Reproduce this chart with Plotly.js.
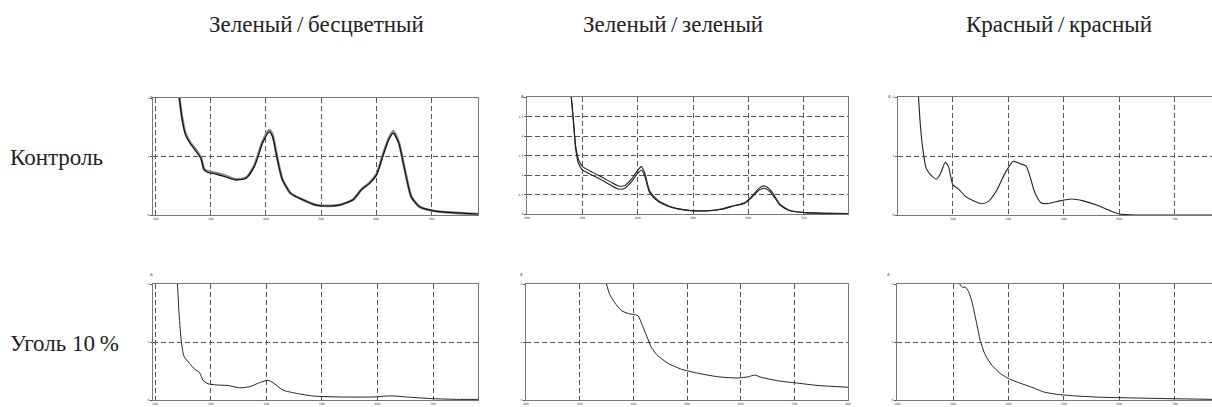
<!DOCTYPE html>
<html><head><meta charset="utf-8">
<script src="https://cdn.plot.ly/plotly-3.0.1.min.js"></script>
<style>html,body{margin:0;padding:0;background:#fff}#chart{width:1212px;height:407px}</style>
</head><body><div id="chart"></div>
<script>
// Column and row labels
const colTitles = ["Зеленый\u202F/\u202Fбесцветный", "Зеленый\u202F/\u202Fзеленый", "Красный\u202F/\u202Fкрасный"];
const rowTitles = ["Контроль", "Уголь 10\u202F%"];

// Panel 1: Контроль, Зеленый / бесцветный (two replicate curves)
const p1_x  = [238,243,247,254,262,273,282,288,294,309,327,345,364,379,394,406,412,421,430,445,467,491,509,533,558,573,588,601,612,623,631,641,652,664,679,703,739,785];
const p1_y1 = [2.4,2.0,1.69,1.37,1.23,1.09,0.97,0.77,0.73,0.70,0.65,0.60,0.63,0.83,1.23,1.42,1.34,0.94,0.60,0.37,0.26,0.17,0.154,0.17,0.26,0.43,0.54,0.69,1.0,1.29,1.40,1.23,0.77,0.31,0.14,0.074,0.04,0.017];
const p1_y2 = [2.4,2.0,1.71,1.40,1.25,1.11,0.98,0.78,0.75,0.72,0.67,0.61,0.64,0.85,1.26,1.45,1.37,0.95,0.61,0.37,0.26,0.17,0.156,0.17,0.26,0.43,0.55,0.70,1.02,1.31,1.43,1.25,0.78,0.31,0.14,0.074,0.04,0.017];

// Panel 2: Контроль, Зеленый / зеленый (two replicate curves)
const p2_x  = [276,280,284,288,293,300,317,335,350,365,377,389,401,407,413,422,437,461,485,521,551,575,593,608,620,630,642,657,675,702,738,780];
const p2_y1 = [3.6,3.0,2.33,1.65,1.30,1.13,1.00,0.87,0.75,0.64,0.66,0.83,1.06,1.13,0.96,0.53,0.32,0.17,0.10,0.077,0.12,0.21,0.27,0.45,0.62,0.66,0.53,0.23,0.086,0.034,0.017,0.01];
const p2_y2 = [3.6,3.0,2.40,1.74,1.40,1.22,1.08,0.95,0.83,0.72,0.73,0.90,1.14,1.22,1.04,0.58,0.35,0.18,0.11,0.08,0.125,0.22,0.29,0.48,0.67,0.72,0.58,0.25,0.09,0.036,0.018,0.01];

// Panel 3: Контроль, Красный / красный
const p3_x = [235,238,241,246,252,262,271,278,286,292,300,310,322,337,352,364,379,394,409,421,432,439,448,460,475,493,514,535,559,583,600,631,767];
const p3_y = [2.4,2.0,1.56,1.10,0.79,0.66,0.61,0.71,0.89,0.82,0.51,0.44,0.32,0.24,0.19,0.23,0.42,0.71,0.91,0.87,0.83,0.65,0.37,0.20,0.20,0.24,0.27,0.24,0.17,0.074,0.017,0.0,0.0];

// Panel 4: Уголь 10 %, Зеленый / бесцветный
const p4_x = [237,240,243,247,252,262,271,280,286,295,310,331,352,370,388,403,412,430,454,484,532,592,616,631,652,700,742,781];
const p4_y = [2.4,2.0,1.47,1.01,0.75,0.63,0.53,0.47,0.34,0.28,0.26,0.25,0.21,0.23,0.30,0.34,0.30,0.17,0.115,0.069,0.052,0.052,0.069,0.069,0.052,0.023,0.011,0.011];

// Panel 5: Уголь 10 %, Зеленый / зеленый
const p5_x = [345,350,356,366,378,391,403,409,415,425,434,446,465,490,521,558,595,614,626,639,670,707,744,800];
const p5_y = [2.3,2.0,1.82,1.67,1.54,1.49,1.47,1.45,1.33,1.10,0.90,0.76,0.63,0.53,0.46,0.40,0.38,0.40,0.43,0.39,0.33,0.29,0.25,0.22];

// Panel 6: Уголь 10 %, Красный / красный
const p6_x = [310,312,318,322,328,334,342,349,358,370,385,400,421,445,463,487,523,571,631,691,767];
const p6_y = [2.1,2.0,1.94,1.95,1.87,1.70,1.35,1.03,0.78,0.60,0.46,0.37,0.29,0.21,0.14,0.098,0.069,0.046,0.034,0.023,0.011];

const W = 1212, H = 407;
const panels = [
  {px:[153,478], py:[98,215], xr:[195,785], yr:[0,2], dy:1, series:[[p1_x,p1_y2,'#8a8a8a',2.6],[p1_x,p1_y1,'#111',1.2]], mirrorY:true},
  {px:[527,848], py:[97,214], xr:[200,780], yr:[0,3], dy:0.5, series:[[p2_x,p2_y2,'#222',1.1],[p2_x,p2_y1,'#222',1.1]], mirrorY:true},
  {px:[898,1212], py:[97,215], xr:[201,767], yr:[0,2], dy:1, series:[[p3_x,p3_y,'#222',1.1]], mirrorY:false},
  {px:[153,478], py:[284,400], xr:[196,781], yr:[0,2], dy:1, series:[[p4_x,p4_y,'#222',1.0]], mirrorY:true},
  {px:[526,848], py:[284,400], xr:[200,800], yr:[0,2], dy:1, series:[[p5_x,p5_y,'#222',1.0]], mirrorY:true},
  {px:[897,1212], py:[284,400], xr:[199,767], yr:[0,2], dy:1, series:[[p6_x,p6_y,'#222',1.0]], mirrorY:false}
];

const traces = [];
const layout = {
  width: W, height: H,
  margin: {l:0, r:0, t:0, b:0},
  paper_bgcolor: '#fff', plot_bgcolor: '#fff',
  showlegend: false,
  annotations: [],
  font: {family: 'Liberation Serif, Times New Roman, serif', color: '#222'}
};

panels.forEach((p, i) => {
  const n = i + 1;
  const xa = 'xaxis' + (n === 1 ? '' : n), ya = 'yaxis' + (n === 1 ? '' : n);
  const xr = 'x' + (n === 1 ? '' : n), yr = 'y' + (n === 1 ? '' : n);
  p.series.forEach(s => {
    traces.push({x: s[0], y: s[1], type: 'scatter', mode: 'lines', xaxis: xr, yaxis: yr,
      line: {color: s[2], width: s[3], shape: 'spline', smoothing: 0.6}, hoverinfo: 'skip'});
  });
  layout[xa] = {
    domain: [p.px[0] / W, Math.min(1, p.px[1] / W)], anchor: yr, range: p.xr,
    dtick: 100, tick0: 200, showgrid: true, gridcolor: '#555', griddash: '5px,3px', gridwidth: 1,
    showline: true, linecolor: '#777', linewidth: 1, mirror: true, zeroline: false,
    ticks: '', ticklabelstandoff: 0,
    tickfont: {size: 3, color: '#333', family: 'DejaVu Sans'}, fixedrange: true
  };
  layout[ya] = {
    domain: [1 - p.py[1] / H, 1 - p.py[0] / H], anchor: xr, range: p.yr,
    dtick: p.dy, showgrid: true, gridcolor: '#555', griddash: '5px,3px', gridwidth: 1,
    showline: true, linecolor: '#777', linewidth: 1, mirror: p.mirrorY, zeroline: false,
    ticks: 'outside', ticklen: 2, tickcolor: '#555',
    tickfont: {size: 3, color: '#333', family: 'DejaVu Sans'}, fixedrange: true
  };
  layout.annotations.push({xref:'paper', yref:'paper', x:(p.px[0]-5)/W, y:1-(p.py[0]-5)/H,
    text:'A', showarrow:false, font:{size:4, color:'#333', family:'DejaVu Sans'}});
});

const colX = [316, 673, 1059];
colTitles.forEach((t, i) => layout.annotations.push({xref:'paper', yref:'paper', x: colX[i]/W, y: 1-24/H,
  xanchor:'center', yanchor:'middle', text:t, showarrow:false, font:{size:23, color:'#222'}}));
const rowY = [157, 343];
rowTitles.forEach((t, i) => layout.annotations.push({xref:'paper', yref:'paper', x: 8/W, y: 1-rowY[i]/H,
  xanchor:'left', yanchor:'middle', text:t, showarrow:false, font:{size:23, color:'#222'}}));

Plotly.newPlot('chart', traces, layout, {displayModeBar:false, staticPlot:true});
</script></body></html>
